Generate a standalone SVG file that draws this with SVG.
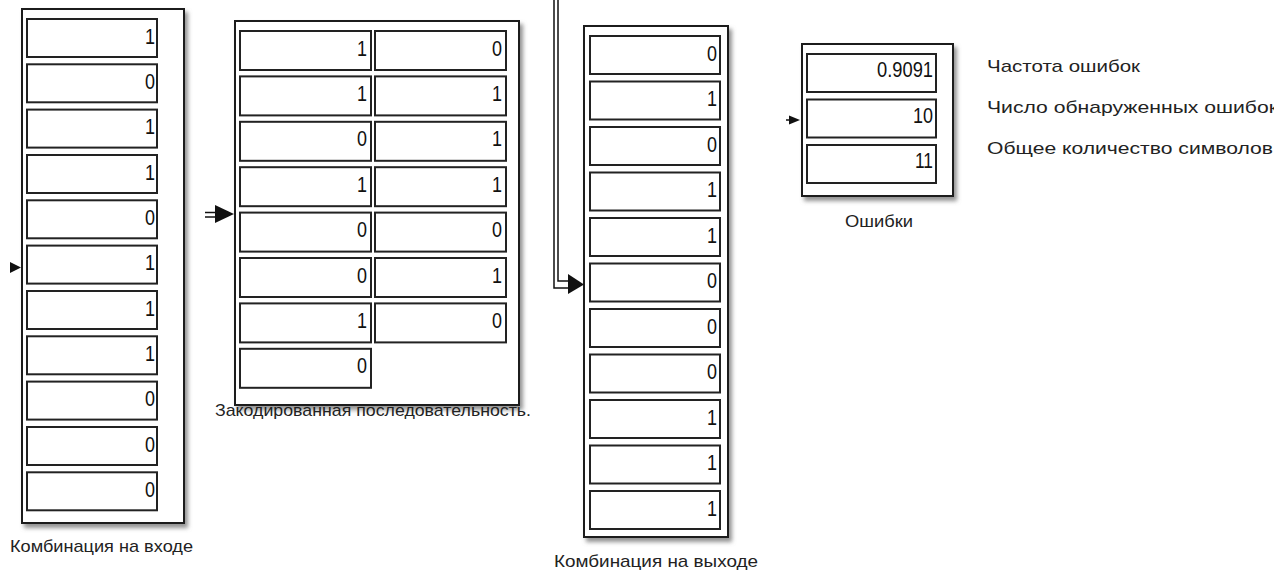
<svg xmlns="http://www.w3.org/2000/svg" width="1274" height="573" viewBox="0 0 1274 573">
<defs>
<filter id="sh" x="-10%" y="-10%" width="130%" height="130%">
<feDropShadow dx="3" dy="4" stdDeviation="2" flood-color="#777" flood-opacity="0.8"/>
</filter>
</defs>
<style>
.outer{fill:#fff;stroke:#1a1a1a;stroke-width:2;filter:url(#sh)}
.cell{fill:#fff;stroke:#222;stroke-width:2}
.v{font-family:"Liberation Sans",Arial,sans-serif;font-size:22px;fill:#111;text-anchor:end}
.lbl{font-family:"Liberation Sans",Arial,sans-serif;font-size:17px;fill:#222}
.wire{fill:none;stroke:#111;stroke-width:1.5}
.head{fill:#111}
</style>
<rect width="1274" height="573" fill="#fff"/>

<g id="input-block">
<rect class="outer" x="22" y="9" width="162" height="514"/>
<rect class="cell" x="27" y="19" width="130" height="38"/>
<rect class="cell" x="27" y="64.3" width="130" height="38"/>
<rect class="cell" x="27" y="109.6" width="130" height="38"/>
<rect class="cell" x="27" y="155" width="130" height="38"/>
<rect class="cell" x="27" y="200.3" width="130" height="38"/>
<rect class="cell" x="27" y="245.6" width="130" height="38"/>
<rect class="cell" x="27" y="291" width="130" height="38"/>
<rect class="cell" x="27" y="336.3" width="130" height="38"/>
<rect class="cell" x="27" y="381.6" width="130" height="38"/>
<rect class="cell" x="27" y="427" width="130" height="38"/>
<rect class="cell" x="27" y="472.3" width="130" height="38"/>
<text class="v" x="155" y="43.5" textLength="10" lengthAdjust="spacingAndGlyphs">1</text>
<text class="v" x="155" y="88.8" textLength="10" lengthAdjust="spacingAndGlyphs">0</text>
<text class="v" x="155" y="134.1" textLength="10" lengthAdjust="spacingAndGlyphs">1</text>
<text class="v" x="155" y="179.5" textLength="10" lengthAdjust="spacingAndGlyphs">1</text>
<text class="v" x="155" y="224.8" textLength="10" lengthAdjust="spacingAndGlyphs">0</text>
<text class="v" x="155" y="270.1" textLength="10" lengthAdjust="spacingAndGlyphs">1</text>
<text class="v" x="155" y="315.5" textLength="10" lengthAdjust="spacingAndGlyphs">1</text>
<text class="v" x="155" y="360.8" textLength="10" lengthAdjust="spacingAndGlyphs">1</text>
<text class="v" x="155" y="406.1" textLength="10" lengthAdjust="spacingAndGlyphs">0</text>
<text class="v" x="155" y="451.5" textLength="10" lengthAdjust="spacingAndGlyphs">0</text>
<text class="v" x="155" y="496.8" textLength="10" lengthAdjust="spacingAndGlyphs">0</text>
<text class="lbl" x="10" y="552" textLength="183" lengthAdjust="spacingAndGlyphs">Комбинация на входе</text>
</g>

<g id="encoded-block">
<rect class="outer" x="235" y="21" width="284" height="384"/>
<rect class="cell" x="240" y="31" width="131" height="39"/>
<rect class="cell" x="375" y="31" width="131" height="39"/>
<rect class="cell" x="240" y="76.4" width="131" height="39"/>
<rect class="cell" x="375" y="76.4" width="131" height="39"/>
<rect class="cell" x="240" y="121.8" width="131" height="39"/>
<rect class="cell" x="375" y="121.8" width="131" height="39"/>
<rect class="cell" x="240" y="167.2" width="131" height="39"/>
<rect class="cell" x="375" y="167.2" width="131" height="39"/>
<rect class="cell" x="240" y="212.6" width="131" height="39"/>
<rect class="cell" x="375" y="212.6" width="131" height="39"/>
<rect class="cell" x="240" y="258" width="131" height="39"/>
<rect class="cell" x="375" y="258" width="131" height="39"/>
<rect class="cell" x="240" y="303.4" width="131" height="39"/>
<rect class="cell" x="375" y="303.4" width="131" height="39"/>
<rect class="cell" x="240" y="348.8" width="131" height="39"/>
<text class="v" x="367" y="55.5" textLength="10" lengthAdjust="spacingAndGlyphs">1</text>
<text class="v" x="502" y="55.5" textLength="10" lengthAdjust="spacingAndGlyphs">0</text>
<text class="v" x="367" y="100.9" textLength="10" lengthAdjust="spacingAndGlyphs">1</text>
<text class="v" x="502" y="100.9" textLength="10" lengthAdjust="spacingAndGlyphs">1</text>
<text class="v" x="367" y="146.3" textLength="10" lengthAdjust="spacingAndGlyphs">0</text>
<text class="v" x="502" y="146.3" textLength="10" lengthAdjust="spacingAndGlyphs">1</text>
<text class="v" x="367" y="191.7" textLength="10" lengthAdjust="spacingAndGlyphs">1</text>
<text class="v" x="502" y="191.7" textLength="10" lengthAdjust="spacingAndGlyphs">1</text>
<text class="v" x="367" y="237.1" textLength="10" lengthAdjust="spacingAndGlyphs">0</text>
<text class="v" x="502" y="237.1" textLength="10" lengthAdjust="spacingAndGlyphs">0</text>
<text class="v" x="367" y="282.5" textLength="10" lengthAdjust="spacingAndGlyphs">0</text>
<text class="v" x="502" y="282.5" textLength="10" lengthAdjust="spacingAndGlyphs">1</text>
<text class="v" x="367" y="327.9" textLength="10" lengthAdjust="spacingAndGlyphs">1</text>
<text class="v" x="502" y="327.9" textLength="10" lengthAdjust="spacingAndGlyphs">0</text>
<text class="v" x="367" y="373.3" textLength="10" lengthAdjust="spacingAndGlyphs">0</text>
<text class="lbl" x="215" y="416" textLength="316" lengthAdjust="spacingAndGlyphs">Закодированная последовательность.</text>
</g>

<g id="output-block">
<rect class="outer" x="584" y="26" width="144" height="511"/>
<rect class="cell" x="590" y="36" width="130" height="38"/>
<rect class="cell" x="590" y="81.5" width="130" height="38"/>
<rect class="cell" x="590" y="127" width="130" height="38"/>
<rect class="cell" x="590" y="172.5" width="130" height="38"/>
<rect class="cell" x="590" y="218" width="130" height="38"/>
<rect class="cell" x="590" y="263.5" width="130" height="38"/>
<rect class="cell" x="590" y="309" width="130" height="38"/>
<rect class="cell" x="590" y="354.5" width="130" height="38"/>
<rect class="cell" x="590" y="400" width="130" height="38"/>
<rect class="cell" x="590" y="445.5" width="130" height="38"/>
<rect class="cell" x="590" y="491" width="130" height="38"/>
<text class="v" x="717" y="60.5" textLength="10" lengthAdjust="spacingAndGlyphs">0</text>
<text class="v" x="717" y="106" textLength="10" lengthAdjust="spacingAndGlyphs">1</text>
<text class="v" x="717" y="151.5" textLength="10" lengthAdjust="spacingAndGlyphs">0</text>
<text class="v" x="717" y="197" textLength="10" lengthAdjust="spacingAndGlyphs">1</text>
<text class="v" x="717" y="242.5" textLength="10" lengthAdjust="spacingAndGlyphs">1</text>
<text class="v" x="717" y="288" textLength="10" lengthAdjust="spacingAndGlyphs">0</text>
<text class="v" x="717" y="333.5" textLength="10" lengthAdjust="spacingAndGlyphs">0</text>
<text class="v" x="717" y="379" textLength="10" lengthAdjust="spacingAndGlyphs">0</text>
<text class="v" x="717" y="424.5" textLength="10" lengthAdjust="spacingAndGlyphs">1</text>
<text class="v" x="717" y="470" textLength="10" lengthAdjust="spacingAndGlyphs">1</text>
<text class="v" x="717" y="515.5" textLength="10" lengthAdjust="spacingAndGlyphs">1</text>
<text class="lbl" x="554" y="567" textLength="204" lengthAdjust="spacingAndGlyphs">Комбинация на выходе</text>
</g>

<g id="errors-block">
<rect class="outer" x="802" y="44" width="151" height="152"/>
<rect class="cell" x="807" y="54" width="129" height="38"/>
<rect class="cell" x="807" y="99.5" width="129" height="38"/>
<rect class="cell" x="807" y="145" width="129" height="38"/>
<text class="v" x="933" y="77" font-size="20" textLength="56" lengthAdjust="spacingAndGlyphs">0.9091</text>
<text class="v" x="933" y="122.5" font-size="20" textLength="20" lengthAdjust="spacingAndGlyphs">10</text>
<text class="v" x="933" y="168" font-size="20" textLength="18" lengthAdjust="spacingAndGlyphs">11</text>
<text class="lbl" x="845" y="227" textLength="68" lengthAdjust="spacingAndGlyphs">Ошибки</text>
</g>

<g id="error-labels">
<text class="lbl" x="987" y="72" textLength="153" lengthAdjust="spacingAndGlyphs">Частота ошибок</text>
<text class="lbl" x="987" y="113" textLength="291" lengthAdjust="spacingAndGlyphs">Число обнаруженных ошибок</text>
<text class="lbl" x="987" y="154" textLength="286" lengthAdjust="spacingAndGlyphs">Общее количество символов</text>
</g>

<g id="connectors">
<polygon class="head" points="10,262 21,267.5 10,273"/>
<line class="wire" x1="205" y1="212.5" x2="217" y2="212.5"/>
<line class="wire" x1="205" y1="217" x2="217" y2="217"/>
<polygon class="head" points="215,205 234,214 215,223"/>
<polyline class="wire" points="554,0 554,288 570,288"/>
<polyline class="wire" points="558,0 558,281 570,281"/>
<polygon class="head" points="568,274 584,284.5 568,294"/>
<line class="wire" x1="786" y1="120" x2="792" y2="120"/>
<polygon class="head" points="789,115.5 800,120 789,124.5"/>
</g>
</svg>
